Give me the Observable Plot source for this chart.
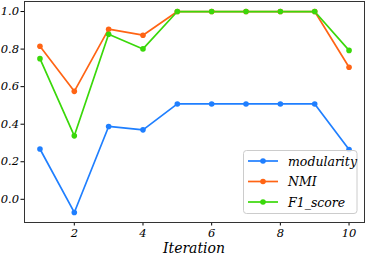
<!DOCTYPE html>
<html><head><meta charset="utf-8">
<script src="https://cdn.jsdelivr.net/npm/d3@7"></script>
<script src="https://cdn.jsdelivr.net/npm/@observablehq/plot@0.6"></script>
<style>body{margin:0;background:#fff}svg{display:block}
svg text{font-family:"DejaVu Serif","Liberation Serif",serif !important;font-style:italic}</style>
</head><body><div id="chart"></div>
<script>
const iterations = [1,2,3,4,5,6,7,8,9,10];
const modularity = [0.268,-0.07,0.388,0.37,0.508,0.508,0.508,0.508,0.508,0.265];
const nmi = [0.815,0.575,0.906,0.874,1.0,1.0,1.0,1.0,1.0,0.703];
const f1 = [0.749,0.338,0.879,0.801,1.0,1.0,1.0,1.0,1.0,0.793];
const seriesNames = ["modularity","NMI","F1_score"];
const colors = ["#1f7fff","#ff6414","#3ad80a"];
const xTicks = [2,4,6,8,10];
const yTicks = [0.0,0.2,0.4,0.6,0.8,1.0];

const vals = [modularity, nmi, f1];
const data = [];
seriesNames.forEach((s,i)=>iterations.forEach((x,j)=>data.push({series:s,x,y:vals[i][j]})));

const plot = Plot.plot({
  width:365, height:258,
  marginLeft:24, marginRight:1, marginTop:1, marginBottom:36,
  style:{fontStyle:"italic", fontSize:"11.5px", background:"#fff", color:"#000"},
  x:{domain:[0.55,10.45], ticks:xTicks, tickSize:3.5, tickPadding:3, label:null},
  y:{domain:[-0.1235,1.0535], ticks:yTicks, tickFormat:d3.format(".1f"), tickSize:3.5, tickPadding:2, label:null},
  color:{domain:seriesNames, range:colors},
  marks:[
    Plot.line(data,{x:"x",y:"y",z:"series",stroke:"series",strokeWidth:1.7}),
    Plot.dot(data,{x:"x",y:"y",fill:"series",r:2.8}),
    Plot.frame({stroke:"#333",strokeWidth:1})
  ]
});
document.getElementById("chart").appendChild(plot);

const svg = d3.select(plot);
svg.append("text").attr("x",194).attr("y",253).attr("text-anchor","middle")
  .attr("font-size","14px").text("Iteration");

const lg = svg.append("g").attr("transform","translate(243,150)");
lg.append("rect").attr("x",0.5).attr("y",0.5).attr("width",113.5).attr("height",63).attr("rx",3)
  .attr("fill","#fff").attr("fill-opacity",0.85).attr("stroke","#ccc");
seriesNames.forEach((s,i)=>{
  const yy = 11 + i*20.5;
  lg.append("line").attr("x1",5).attr("x2",35).attr("y1",yy).attr("y2",yy).attr("stroke",colors[i]).attr("stroke-width",1.7);
  lg.append("circle").attr("cx",20).attr("cy",yy).attr("r",2.8).attr("fill",colors[i]);
  lg.append("text").attr("x",45).attr("y",yy+4.5).attr("text-anchor","start")
    .attr("font-size","12.5px").text(s);
});
</script></body></html>
